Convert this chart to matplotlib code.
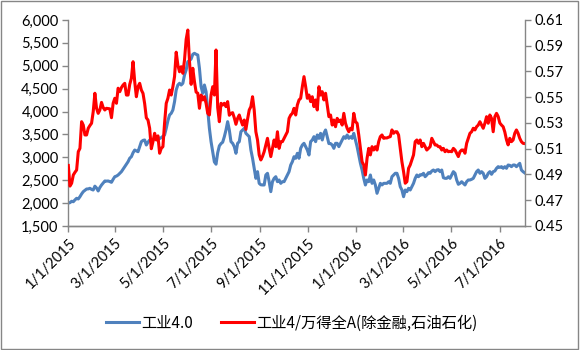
import matplotlib
matplotlib.use('Agg')
import matplotlib.pyplot as plt
from matplotlib.patches import Rectangle
import pandas as pd

plt.rcParams['font.family'] = ['Lato', 'Noto Sans CJK SC', 'DejaVu Sans']

blue_label = '工业4.0'
red_label = '工业4/万得全A(除金融,石油石化)'

# 工业4.0 index level (left axis)
industry40 = [
    2000, 2010, 2040, 2030, 2070, 2105, 2090, 2140, 2200, 2250,
    2280, 2308, 2310, 2323, 2300, 2286, 2370, 2330, 2265, 2340,
    2395, 2440, 2483, 2480, 2483, 2470, 2454, 2520, 2577, 2590,
    2614, 2650, 2687, 2740, 2796, 2850, 2905, 2980,
    3014, 3100, 3160, 3140, 3123, 3230, 3342, 3370, 3379, 3269,
    3330, 3379, 3342, 3380, 3415, 3400, 3400, 3410, 3430, 3460,
    3488, 3634, 3800, 3925, 3962, 4034, 4215, 4471, 4580, 4617,
    4580, 4617, 4799, 4908, 5090, 5110, 5150, 5250, 5272, 5250,
    5235, 4945, 4543, 4398, 4580, 4434, 4034, 3634, 3342, 3123,
    2900, 2850, 3100, 3250, 3300, 3330, 3450, 3597, 3779, 3597,
    3342, 3306, 3233, 3088, 3306, 3342, 3560, 3597, 3634, 3524,
    3488, 3452, 3160, 2979, 2760, 2541, 2687, 2432, 2400, 2396,
    2396, 2614, 2651, 2468, 2250, 2468, 2541, 2577, 2468, 2505,
    2432, 2468, 2468, 2541, 2614, 2687, 2832, 2905, 3014, 2979,
    3088, 2979, 3197, 3269, 3306, 3233, 3160, 3051, 3342, 3379,
    3451, 3342, 3488, 3415, 3524, 3379, 3524, 3597, 3451, 3300,
    3300, 3269, 3197, 3306, 3306, 3233, 3306, 3379, 3451, 3415,
    3488, 3415, 3451, 3415, 3524, 3379, 3233, 3051, 2869, 2723,
    2541, 2396, 2505, 2468, 2614, 2432, 2505, 2396, 2214, 2323,
    2432, 2396, 2432, 2432, 2432, 2468, 2432, 2577, 2614, 2651,
    2651, 2541, 2359, 2286, 2140, 2286, 2250, 2323, 2286, 2359,
    2432, 2541, 2614, 2577, 2620, 2614, 2651, 2577, 2614, 2665,
    2651, 2701, 2723, 2687, 2723, 2730, 2687, 2723, 2555, 2541,
    2541, 2577, 2541, 2614, 2687, 2651, 2505, 2411, 2432, 2468,
    2432, 2396, 2468, 2505, 2505, 2520, 2541, 2614, 2687, 2723,
    2651, 2687, 2651, 2541, 2577, 2651, 2687, 2629, 2687, 2701,
    2760, 2796, 2780, 2796, 2760, 2796, 2760, 2832, 2825, 2796,
    2832, 2832, 2796, 2832, 2869, 2723, 2687, 2660,
]

# 工业4 / 万得全A ratio (right axis)
ratio = [
    0.4970, 0.4810, 0.4832, 0.4896, 0.4917, 0.4935, 0.5077, 0.5103, 0.5310, 0.5284,
    0.5207, 0.5207, 0.5259, 0.5280, 0.5298, 0.5388, 0.5531, 0.5414, 0.5375, 0.5401,
    0.5460, 0.5420, 0.5401, 0.5414, 0.5412, 0.5410, 0.5341, 0.5453, 0.5492, 0.5453,
    0.5570, 0.5543, 0.5575, 0.5595, 0.5608, 0.5517, 0.5517, 0.5600,
    0.5647, 0.5776, 0.5621, 0.5504, 0.5582, 0.5608, 0.5556, 0.5530, 0.5450, 0.5340,
    0.5323, 0.5259, 0.5100, 0.5155, 0.5220, 0.5168, 0.5200, 0.5065, 0.5103, 0.5116,
    0.5300, 0.5453, 0.5492, 0.5556, 0.5517, 0.5582, 0.5660, 0.5850, 0.5750, 0.5698,
    0.5737, 0.5686, 0.5789, 0.5950, 0.6022, 0.5780, 0.5600, 0.5725, 0.5621, 0.5540,
    0.5531, 0.5414, 0.5517, 0.5479, 0.5504, 0.5453, 0.5375, 0.5362, 0.5517, 0.5582,
    0.5517, 0.5867, 0.5420, 0.5310, 0.5453, 0.5440, 0.5453, 0.5427, 0.5466, 0.5360,
    0.5375, 0.5380, 0.5340, 0.5290, 0.5336, 0.5362, 0.5320, 0.5284, 0.5323, 0.5250,
    0.5330, 0.5401, 0.5427, 0.5504, 0.5401, 0.5232, 0.5168, 0.5052, 0.5013, 0.5040,
    0.5077, 0.5129, 0.5181, 0.5103, 0.5039, 0.5103, 0.5168, 0.5116, 0.5232, 0.5103,
    0.5155, 0.5155, 0.5181, 0.5207, 0.5232, 0.5336, 0.5362, 0.5375, 0.5414, 0.5362,
    0.5440, 0.5479, 0.5492, 0.5582, 0.5660, 0.5582, 0.5492, 0.5517, 0.5466, 0.5504,
    0.5427, 0.5479, 0.5401, 0.5582, 0.5517, 0.5543, 0.5479, 0.5531, 0.5440, 0.5349,
    0.5362, 0.5284, 0.5323, 0.5271, 0.5336, 0.5310, 0.5323, 0.5284, 0.5375, 0.5298,
    0.5259, 0.5232, 0.5259, 0.5246, 0.5375, 0.5310, 0.5298, 0.5207, 0.5103, 0.4999,
    0.4974, 0.4896, 0.5026, 0.5103, 0.5052, 0.5116, 0.5090, 0.5116, 0.5090, 0.5155,
    0.5194, 0.5207, 0.5181, 0.5184, 0.5184, 0.5190, 0.5194, 0.5246, 0.5220, 0.5232,
    0.5232, 0.5207, 0.5103, 0.4999, 0.4922, 0.4832, 0.4844, 0.4948, 0.4974, 0.5013,
    0.5052, 0.5155, 0.5168, 0.5142, 0.5168, 0.5116, 0.5142, 0.5116, 0.5090, 0.5103,
    0.5116, 0.5181, 0.5155, 0.5129, 0.5129, 0.5116, 0.5116, 0.5090, 0.5103, 0.5077,
    0.5090, 0.5077, 0.5080, 0.5077, 0.5103, 0.5090, 0.5065, 0.5039, 0.5077, 0.5090,
    0.5090, 0.5065, 0.5142, 0.5181, 0.5220, 0.5232, 0.5259, 0.5246, 0.5271, 0.5284,
    0.5310, 0.5284, 0.5259, 0.5298, 0.5349, 0.5298, 0.5362, 0.5336, 0.5232, 0.5349,
    0.5375, 0.5350, 0.5300, 0.5284, 0.5271, 0.5230, 0.5170, 0.5130, 0.5181, 0.5155,
    0.5168, 0.5220, 0.5246, 0.5220, 0.5181, 0.5155, 0.5142, 0.5140,
]

dates = pd.date_range('2015-01-01', '2016-08-02', periods=len(industry40))
tick_dates = pd.date_range('2015-01-01', '2016-07-01', freq='2MS')
left_ticks = list(range(1500, 6001, 500))
right_ticks = [0.45, 0.47, 0.49, 0.51, 0.53, 0.55, 0.57, 0.59, 0.61]

axis_grey = '#868686'
blue = '#4F81BD'
red = '#FF0000'

fig = plt.figure(figsize=(5.8, 3.5), dpi=100)
ax = fig.add_axes([0.1178, 0.3543, 0.7869, 0.5886])
ax2 = ax.twinx()

ax.plot(dates, industry40, color=blue, lw=2.2, label=blue_label, solid_joinstyle='round')
ax2.plot(dates, ratio, color=red, lw=2.2, label=red_label, solid_joinstyle='round')

ax.set_xlim(dates[0], dates[-1])
ax.set_ylim(1500, 6000)
ax2.set_ylim(0.45, 0.61)

ax.set_yticks(left_ticks)
ax.set_yticklabels([f'{v:,}' for v in left_ticks])
ax2.set_yticks(right_ticks)
ax2.set_yticklabels([f'{v:.2f}' for v in right_ticks])
ax.set_xticks(tick_dates)
ax.set_xticklabels([f'{d.month}/{d.day}/{d.year}' for d in tick_dates],
                   rotation=45, ha='right', rotation_mode='anchor')

for a in (ax, ax2):
    a.spines['top'].set_visible(False)
    for s in ('left', 'right', 'bottom'):
        a.spines[s].set_color(axis_grey)
        a.spines[s].set_linewidth(1.0)
    a.tick_params(colors=axis_grey, labelcolor='black', labelsize=10.5,
                  length=4, width=1.0, direction='out')
ax.spines['right'].set_visible(False)
ax2.spines['left'].set_visible(False)
ax.tick_params(axis='x', pad=3)
ax.tick_params(axis='y', pad=3)
ax2.tick_params(axis='y', pad=3)

handles = ax.get_lines() + ax2.get_lines()
fig.legend(handles, [h.get_label() for h in handles],
           loc='center', bbox_to_anchor=(0.503, 0.077), ncol=2, frameon=False,
           prop={'family': ['Noto Sans CJK SC'], 'size': 11},
           handlelength=2.2, handletextpad=0.15, columnspacing=1.8)

fig.patches.append(Rectangle((0.002, 0.004), 0.995, 0.993, transform=fig.transFigure,
                             fill=False, edgecolor=axis_grey, lw=1.0))

fig.savefig('out.png', dpi=100)
